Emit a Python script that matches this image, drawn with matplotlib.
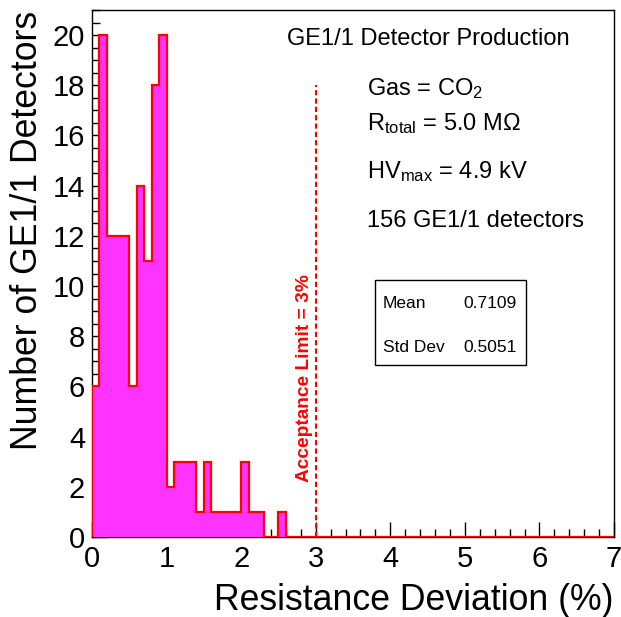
import numpy as np
import matplotlib.pyplot as plt
from matplotlib.ticker import MultipleLocator

plt.rcParams['font.family'] = ['Liberation Sans', 'DejaVu Sans']
plt.rcParams['mathtext.fontset'] = 'custom'
plt.rcParams['mathtext.rm'] = 'Liberation Sans'
plt.rcParams['mathtext.it'] = 'Liberation Sans'

# histogram, bins of 0.1 % from 0 to 7
bin_width = 0.1
x_min, x_max = 0.0, 7.0
counts_nonzero = [6, 20, 12, 12, 12, 6, 14, 11, 18, 20,
                  2, 3, 3, 3, 1, 3, 1, 1, 1, 1,
                  3, 1, 1, 0, 0, 1]
stat_labels = ['Mean', 'Std Dev']
stat_values = ['0.7109', '0.5051']
info_lines = [r'Gas = CO$_2$', r'R$_{\rm total}$ = 5.0 M$\Omega$',
              r'HV$_{\rm max}$ = 4.9 kV', '156 GE1/1 detectors']
limit = 3.0
limit_height = 18

n_bins = int(round((x_max - x_min) / bin_width))
edges = np.linspace(x_min, x_max, n_bins + 1)
counts = np.zeros(n_bins)
counts[:len(counts_nonzero)] = counts_nonzero

W, H = 621, 617
fig = plt.figure(figsize=(W / 100, H / 100), dpi=100)
ax = fig.add_axes([92 / W, 1 - 537 / H, (614 - 92) / W, (537 - 10) / H])


def fx(px):
    return px / W


def fy(py):
    return 1 - py / H


ax.stairs(counts, edges, fill=True, color='#ff33ff', zorder=2)
ax.stairs(counts, edges, color='#ff0000', linewidth=1.6, zorder=3)

ax.plot([limit, limit], [0, limit_height], color='#ff0000', linestyle=(0, (2.5, 1.5)),
        linewidth=1.5, zorder=4)
ax.text(limit - 0.04, 2.2, 'Acceptance Limit = 3%', rotation=90, color='#ff0000',
        fontsize=13.8, fontweight='bold', ha='right', va='bottom')

ax.set_xlim(x_min, x_max)
ax.set_ylim(0, 21)
ax.xaxis.set_major_locator(MultipleLocator(1))
ax.xaxis.set_minor_locator(MultipleLocator(0.2))
ax.yaxis.set_major_locator(MultipleLocator(2))
ax.yaxis.set_minor_locator(MultipleLocator(0.5))
ax.tick_params(which='both', direction='in', top=False, right=False, labelsize=21)
ax.tick_params(which='major', length=11, width=1)
ax.tick_params(which='minor', length=5.5, width=1)
ax.tick_params(axis='x', pad=6)
ax.tick_params(axis='y', pad=5)
for s in ax.spines.values():
    s.set_linewidth(1)
    s.set_zorder(1)

fig.text(fx(614), fy(610), 'Resistance Deviation (%)', fontsize=25.7, ha='right', va='baseline')
fig.text(fx(28), fy(230), 'Number of GE1/1 Detectors', fontsize=25.7, rotation=90,
         ha='center', va='center')

fig.text(fx(287), fy(45), 'GE1/1 Detector Production', fontsize=17, va='baseline')
for line, base in zip(info_lines, [95, 130, 178, 227]):
    fig.text(fx(367), fy(base), line, fontsize=17, va='baseline')

# stats box
box = plt.Rectangle((fx(375), fy(365)), fx(526) - fx(375), fy(280) - fy(365),
                    transform=fig.transFigure, fill=False, edgecolor='black', linewidth=1)
fig.patches.append(box)
for lab, val, base in zip(stat_labels, stat_values, [308, 352]):
    fig.text(fx(383), fy(base), lab, fontsize=12.5, va='baseline')
    fig.text(fx(517), fy(base), val, fontsize=12.5, va='baseline', ha='right')

fig.savefig('out.png', dpi=100)
